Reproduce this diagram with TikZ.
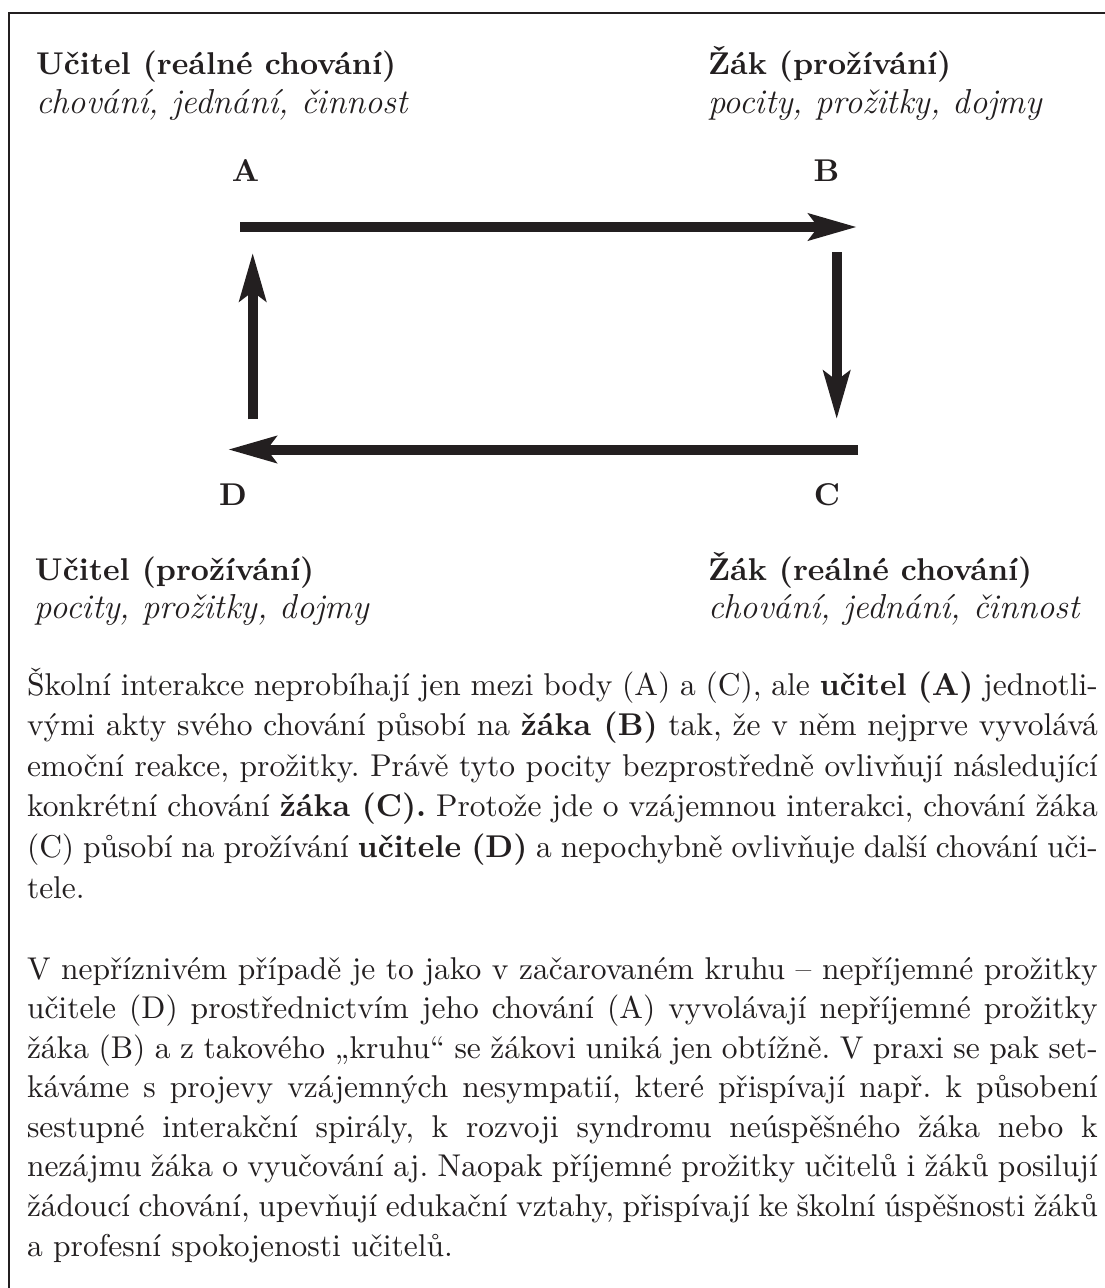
\documentclass[tikz,border=0pt]{standalone}
\usepackage{fontspec}
\usetikzlibrary{arrows.meta}
\definecolor{ink}{HTML}{231F20}
\newcommand\jline[1]{\makebox[340pt][s]{#1}}
\begin{document}
\begin{tikzpicture}[x=0.3175pt,y=-0.3175pt,
  every node/.style={inner sep=0pt, outer sep=0pt, text=ink},
  head/.style={anchor=base west, font=\fontsize{10}{12}\selectfont\bfseries},
  sub/.style={anchor=base west, font=\fontsize{11}{13}\selectfont\itshape},
  letter/.style={anchor=base, font=\fontsize{10}{12}\selectfont\bfseries},
  bline/.style={anchor=base west, font=\fontsize{10}{12}\selectfont\frenchspacing},
  flow/.style={draw=ink, line width=3.175pt, -{Stealth[length=15.2pt,width=8.3pt,inset=2.9pt]}}]
\useasboundingbox (0,0) rectangle (1105,1288);
\draw[ink, line width=0.65pt] (9,1300) -- (9,13) -- (1110,13);

\node[head] (uA) at (36,74) {Učitel (reálné chování)};
\node[sub] (uAs) at (36,113) {chování, jednání, činnost};
\node[head] (zB) at (708,74) {Žák (prožívání)};
\node[sub] (zBs) at (708,113) {pocity, prožitky, dojmy};
\node[head] (uD) at (35,580) {Učitel (prožívání)};
\node[sub] (uDs) at (35,618) {pocity, prožitky, dojmy};
\node[head] (zC) at (708,580) {Žák (reálné chování)};
\node[sub] (zCs) at (708,618) {chování, jednání, činnost};

\node[letter] (A) at (245.5,181) {A};
\node[letter] (B) at (826.5,181) {B};
\node[letter] (D) at (233,505) {D};
\node[letter] (C) at (827,505) {C};

\coordinate (ab0) at (240,227);   \coordinate (ab1) at (857,227);
\coordinate (bc0) at (836.7,252); \coordinate (bc1) at (836.7,419.3);
\coordinate (cd0) at (858,449.5); \coordinate (cd1) at (228,449.5);
\coordinate (da0) at (252.7,419.3); \coordinate (da1) at (252.7,252.7);
\draw[flow] (ab0) -- (ab1);
\draw[flow] (bc0) -- (bc1);
\draw[flow] (cd0) -- (cd1);
\draw[flow] (da0) -- (da1);

% paragraph 1
\node[bline] (l1) at (27,695) {\jline{Školní interakce neprobíhají jen mezi body (A) a (C), ale \textbf{učitel (A)} jednotli-}};
\node[bline] (l2) at (27,735.6) {\jline{vými akty svého chování působí na \textbf{žáka (B)} tak, že v něm nejprve vyvolává}};
\node[bline] (l3) at (27,776.2) {\jline{emoční reakce, prožitky. Právě tyto pocity bezprostředně ovlivňují následující}};
\node[bline] (l4) at (27,816.8) {\jline{konkrétní chování \textbf{žáka (C).} Protože jde o vzájemnou interakci, chování žáka}};
\node[bline] (l5) at (27,857.4) {\jline{(C) působí na prožívání \textbf{učitele (D)} a nepochybně ovlivňuje další chování uči-}};
\node[bline] (l6) at (27,898) {tele.};
% paragraph 2
\node[bline] (m1) at (27,979) {\jline{V nepříznivém případě je to jako v začarovaném kruhu – nepříjemné prožitky}};
\node[bline] (m2) at (27,1018.6) {\jline{učitele (D) prostřednictvím jeho chování (A) vyvolávají nepříjemné prožitky}};
\node[bline] (m3) at (27,1058.1) {\jline{žáka (B) a z takového „kruhu“ se žákovi uniká jen obtížně. V praxi se pak set-}};
\node[bline] (m4) at (27,1097.7) {\jline{káváme s projevy vzájemných nesympatií, které přispívají např. k působení}};
\node[bline] (m5) at (27,1137.3) {\jline{sestupné interakční spirály, k rozvoji syndromu neúspěšného žáka nebo k}};
\node[bline] (m6) at (27,1176.9) {\jline{nezájmu žáka o vyučování aj. Naopak příjemné prožitky učitelů i žáků posilují}};
\node[bline] (m7) at (27,1216.4) {\jline{žádoucí chování, upevňují edukační vztahy, přispívají ke školní úspěšnosti žáků}};
\node[bline] (m8) at (27,1256) {a profesní spokojenosti učitelů.};
\end{tikzpicture}
\end{document}
